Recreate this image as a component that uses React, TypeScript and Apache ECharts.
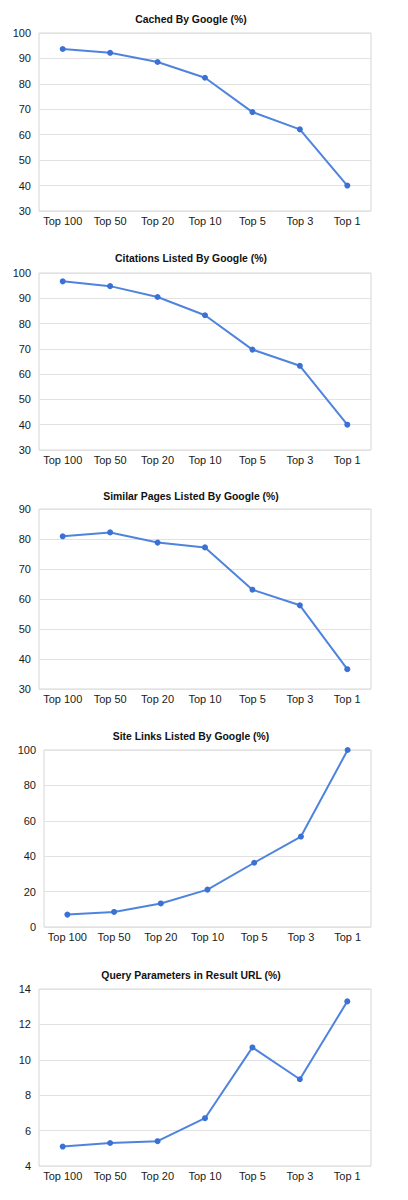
import React, { useEffect, useRef } from "react";
import * as echarts from "echarts";

const categories = ["Top 100", "Top 50", "Top 20", "Top 10", "Top 5", "Top 3", "Top 1"];

const titles = [
  "Cached By Google (%)",
  "Citations Listed By Google (%)",
  "Similar Pages Listed By Google (%)",
  "Site Links Listed By Google (%)",
  "Query Parameters in Result URL (%)",
];

const cachedValues = [93.7, 92.2, 88.6, 82.4, 68.9, 62.1, 40.0];
const citationsValues = [96.7, 94.8, 90.5, 83.3, 69.7, 63.3, 40.0];
const similarValues = [80.9, 82.2, 78.8, 77.2, 63.1, 57.9, 36.6];
const siteLinksValues = [7.0, 8.5, 13.3, 21.1, 36.3, 51.1, 100.0];
const queryParamValues = [5.1, 5.3, 5.4, 6.7, 10.7, 8.9, 13.3];

const yMins = [30, 30, 30, 0, 4];
const yMaxs = [100, 100, 90, 100, 14];
const yIntervals = [10, 10, 10, 20, 2];

const seriesValues = [cachedValues, citationsValues, similarValues, siteLinksValues, queryParamValues];

const gridBoxes = [
  { left: 39, top: 33, width: 332, height: 178, titleY: 20 },
  { left: 39, top: 273, width: 332, height: 177, titleY: 259 },
  { left: 39, top: 509, width: 332, height: 180, titleY: 497 },
  { left: 44, top: 750, width: 327, height: 177, titleY: 737 },
  { left: 39, top: 989, width: 332, height: 177, titleY: 976 },
];

const FONT = "'Liberation Sans', Arial, Helvetica, sans-serif";

export default function App() {
  const ref = useRef<HTMLDivElement>(null);

  useEffect(() => {
    if (!ref.current) return;
    const chart = echarts.init(ref.current, undefined, { renderer: "svg" });
    const option: any = {
      animation: false,
      backgroundColor: "#ffffff",
      title: titles.map((t, i) => ({
        text: t,
        left: 191,
        top: gridBoxes[i].titleY - 6,
        textAlign: "center",
        padding: 0,
        textStyle: { fontFamily: FONT, fontSize: 10.4, fontWeight: "bold", color: "#111" },
      })),
      grid: gridBoxes.map((g) => ({
        left: g.left,
        top: g.top,
        width: g.width,
        height: g.height,
        show: true,
        borderColor: "#d6d6d6",
        borderWidth: 1,
        backgroundColor: "transparent",
        containLabel: false,
      })),
      xAxis: gridBoxes.map((_, i) => ({
        type: "category",
        gridIndex: i,
        data: categories,
        boundaryGap: true,
        axisLine: { show: false },
        axisTick: { show: false },
        axisLabel: { fontFamily: FONT, fontSize: 11, color: "#1a1a1a", margin: 4, interval: 0 },
        splitLine: { show: false },
      })),
      yAxis: gridBoxes.map((_, i) => ({
        type: "value",
        gridIndex: i,
        min: yMins[i],
        max: yMaxs[i],
        interval: yIntervals[i],
        axisLine: { show: false },
        axisTick: { show: false },
        axisLabel: { fontFamily: FONT, fontSize: 11, color: "#1a1a1a", margin: 8 },
        splitLine: { show: true, lineStyle: { color: "#e2e2e2", width: 1 } },
      })),
      series: seriesValues.map((vals, i) => ({
        type: "line",
        xAxisIndex: i,
        yAxisIndex: i,
        data: vals,
        symbol: "circle",
        symbolSize: 6,
        showSymbol: true,
        lineStyle: { color: "#4f84de", width: 2 },
        itemStyle: { color: "#3b70d4" },
      })),
    };
    chart.setOption(option);
    return () => chart.dispose();
  }, []);

  return (
    <div
      ref={ref}
      style={{ position: "absolute", left: 0, top: 0, width: 408, height: 1200 }}
    />
  );
}
